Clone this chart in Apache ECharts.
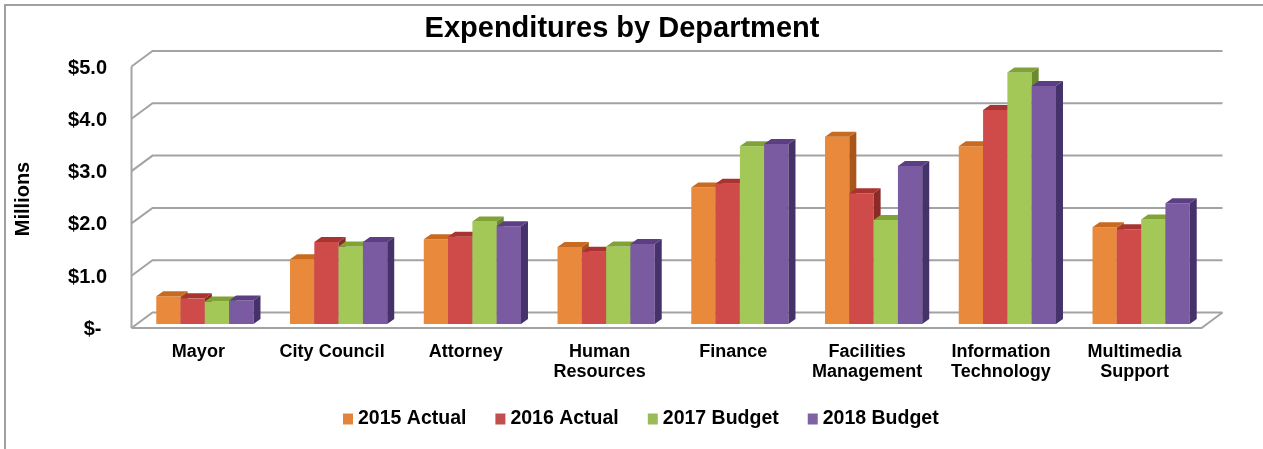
<!DOCTYPE html>
<html>
<head>
<meta charset="utf-8">
<script src="https://cdn.jsdelivr.net/npm/echarts@6/dist/echarts.min.js"></script>
<style>
  html, body { margin: 0; padding: 0; background: #fff; }
  #chart { width: 1263px; height: 449px; }
</style>
</head>
<body>
<div id="chart"></div>
<script>
// Department expenditures, in millions of dollars
const categories = ['Mayor', 'City Council', 'Attorney', 'Human\nResources', 'Finance',
  'Facilities\nManagement', 'Information\nTechnology', 'Multimedia\nSupport'];
const seriesNames = ['2015 Actual', '2016 Actual', '2017 Budget', '2018 Budget'];
const actual2015 = [0.53, 1.24, 1.62, 1.47, 2.61, 3.58, 3.40, 1.85];
const actual2016 = [0.49, 1.57, 1.67, 1.38, 2.68, 2.50, 4.09, 1.81];
const budget2017 = [0.43, 1.48, 1.96, 1.48, 3.40, 1.99, 4.81, 2.00];
const budget2018 = [0.45, 1.57, 1.87, 1.53, 3.44, 3.02, 4.55, 2.31];
const yTicks = [0, 1, 2, 3, 4, 5];
const yTickLabels = ['$- ', '$1.0', '$2.0', '$3.0', '$4.0', '$5.0'];

const seriesValues = [actual2015, actual2016, budget2017, budget2018];

// face shading for the pseudo-3D columns
const faces = [
  { front: '#E8893B', top: '#C86A1F', side: '#A8561A', legend: '#E3843C' },
  { front: '#CF4B4A', top: '#A83331', side: '#8C2A28', legend: '#C0504D' },
  { front: '#A3C857', top: '#80A335', side: '#6A8A2B', legend: '#9BBB59' },
  { front: '#7A5AA0', top: '#5B3F82', side: '#46326A', legend: '#7E62A1' }
];

const FONT = "'Liberation Sans', Arial, sans-serif";
const GRID_COLOR = '#a3a3a3';
// column depth (side / top faces)
const DX = 7, DY = -5;
// wall planes relative to the column plane
const FRONT = { dx: -6.5, dy: 4 };
const BACK = { dx: 14.5, dy: -11.5 };
const BAR_FRACTION = 0.1817;

// walls, floor and value labels placed on the front edge of the side wall
function wallRenderer(params, api) {
  const idx = params.dataIndex;
  const v = api.value(1);
  const cs = params.coordSys;
  const y = api.coord([0, v])[1];
  const L = cs.x, R = cs.x + cs.width;
  const line = { stroke: GRID_COLOR, lineWidth: 2, fill: null };
  const children = [
    {
      type: 'polyline',
      shape: { points: [[L + FRONT.dx, y + FRONT.dy], [L + BACK.dx, y + BACK.dy], [R + BACK.dx, y + BACK.dy]] },
      style: line
    },
    {
      type: 'text',
      x: L + FRONT.dx - 24.5,
      y: y + FRONT.dy + 1.5,
      style: {
        text: yTickLabels[idx],
        fontFamily: FONT,
        fontSize: 20,
        fontWeight: 'bold',
        fill: '#000',
        align: 'right',
        verticalAlign: 'middle'
      }
    }
  ];
  if (v === 0) {
    // floor front and right edges
    children.push({
      type: 'polyline',
      shape: { points: [[L + FRONT.dx, y + FRONT.dy], [R + FRONT.dx, y + FRONT.dy], [R + BACK.dx, y + BACK.dy]] },
      style: line
    });
    // front edge of the side wall
    const yTop = api.coord([0, yTicks[yTicks.length - 1]])[1];
    children.push({
      type: 'line',
      shape: { x1: L + FRONT.dx, y1: y + FRONT.dy, x2: L + FRONT.dx, y2: yTop + FRONT.dy },
      style: { stroke: GRID_COLOR, lineWidth: 2 }
    });
  }
  return { type: 'group', children };
}

function columnRenderer(k) {
  const f = faces[k];
  return function (params, api) {
    const cat = api.value(0), val = api.value(1);
    const base = api.coord([cat, 0]);
    const top = api.coord([cat, val]);
    const band = api.size([1, 0])[0];
    const w = band * BAR_FRACTION;
    const x0 = base[0] - 2 * w + k * w;
    const x1 = x0 + w;
    const yB = base[1], yT = top[1];
    return {
      type: 'group',
      children: [
        {
          type: 'rect',
          shape: { x: x0, y: yT, width: w, height: yB - yT },
          style: { fill: f.front }
        },
        {
          type: 'polygon',
          shape: { points: [[x1, yT], [x1 + DX, yT + DY], [x1 + DX, yB + DY], [x1, yB]] },
          style: { fill: f.side }
        },
        {
          type: 'polygon',
          shape: { points: [[x0, yT], [x0 + DX, yT + DY], [x1 + DX, yT + DY], [x1, yT]] },
          style: { fill: f.top }
        }
      ]
    };
  };
}

const chart = echarts.init(document.getElementById('chart'), null, { renderer: 'canvas' });

const series = [{
  type: 'custom',
  name: 'walls',
  renderItem: wallRenderer,
  data: yTicks.map(v => [0, v]),
  z: 1,
  silent: true
}];
seriesValues.forEach((vals, k) => {
  series.push({
    type: 'custom',
    name: seriesNames[k],
    renderItem: columnRenderer(k),
    itemStyle: { color: faces[k].legend },
    data: vals.map((v, i) => [i, v]),
    encode: { x: 0, y: 1 },
    z: 2
  });
});

chart.setOption({
  animation: false,
  backgroundColor: '#ffffff',
  color: faces.map(f => f.legend),
  title: {
    text: 'Expenditures by Department',
    left: 617,
    textAlign: 'center',
    top: 9,
    textStyle: { fontFamily: FONT, fontSize: 29, fontWeight: 'bold', color: '#000' }
  },
  legend: {
    data: seriesNames,
    left: 338,
    top: 404,
    icon: 'rect',
    itemWidth: 10,
    itemHeight: 11,
    itemGap: 29,
    textStyle: { fontFamily: FONT, fontSize: 19.5, fontWeight: 'bold', color: '#000' }
  },
  grid: { left: 138, top: 62.5, width: 1070, height: 261.5 },
  xAxis: {
    type: 'category',
    data: categories,
    axisLine: { show: false },
    axisTick: { show: false },
    splitLine: { show: false },
    axisLabel: {
      interval: 0,
      margin: 18,
      fontFamily: FONT,
      fontSize: 18,
      fontWeight: 'bold',
      lineHeight: 20,
      color: '#000',
      padding: [0, 13, 0, 0]
    }
  },
  yAxis: {
    type: 'value',
    min: 0,
    max: 5,
    interval: 1,
    axisLine: { show: false },
    axisTick: { show: false },
    splitLine: { show: false },
    axisLabel: { show: false }
  },
  graphic: [
    {
      type: 'polyline',
      shape: { points: [[5, 449], [5, 5], [1263, 5]] },
      style: { stroke: '#a0a0a0', lineWidth: 2, fill: null },
      silent: true
    },
    {
      type: 'text',
      x: 23,
      y: 199,
      rotation: Math.PI / 2,
      style: {
        text: 'Millions',
        fontFamily: FONT,
        fontSize: 20,
        fontWeight: 'bold',
        fill: '#000',
        align: 'center',
        verticalAlign: 'middle'
      }
    }
  ],
  series
});
</script>
</body>
</html>
